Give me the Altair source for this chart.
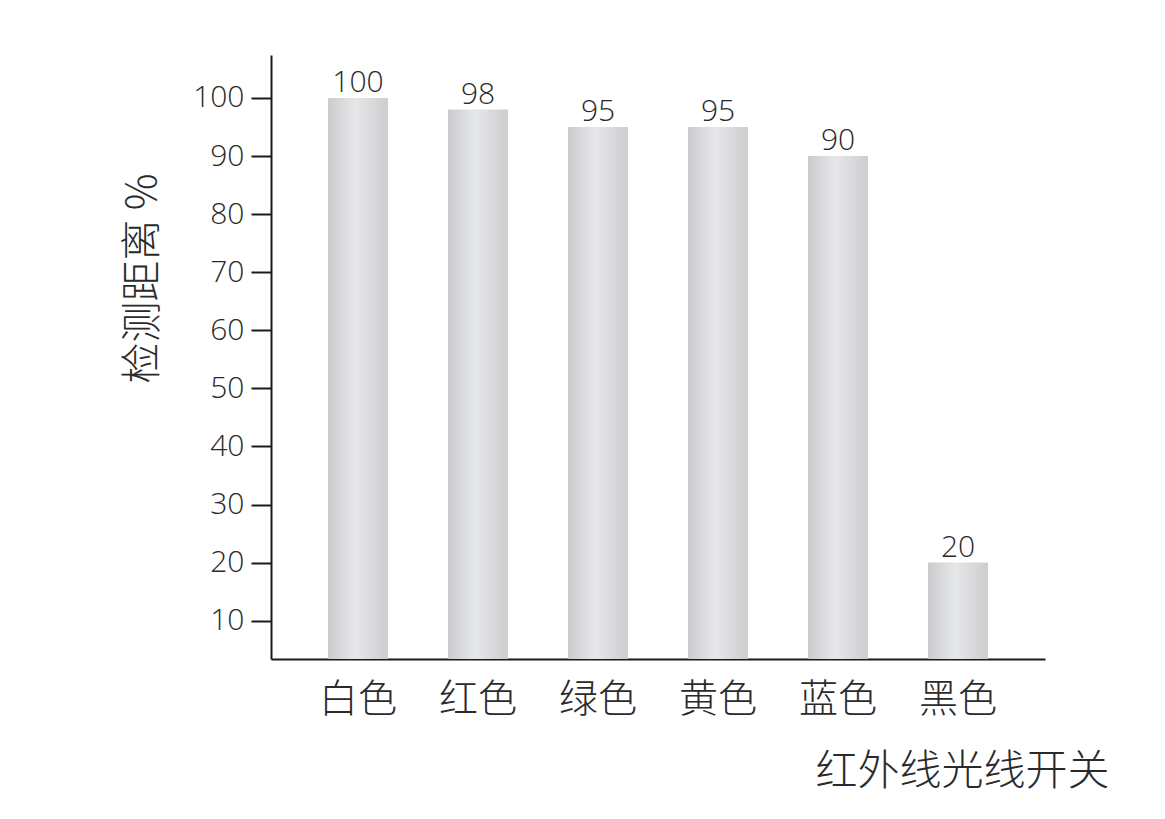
import altair as alt
import pandas as pd

categories = ["白色", "红色", "绿色", "黄色", "蓝色", "黑色"]
values = [100, 98, 95, 95, 90, 20]
y_ticks = [10, 20, 30, 40, 50, 60, 70, 80, 90, 100]
Y_MIN, Y_MAX = 3.4, 107.4

df = pd.DataFrame({"cat": categories, "val": values})

grad = alt.LinearGradient(
    gradient="linear",
    x1=0, x2=1, y1=0, y2=0,
    stops=[
        alt.GradientStop(offset=0, color="#cbcbcd"),
        alt.GradientStop(offset=0.45, color="#e6e7e9"),
        alt.GradientStop(offset=1, color="#cdcdcf"),
    ],
)

CJK = "Noto Sans CJK SC"
NUM = "Open Sans"
TXT = "#2a2a2a"

x_enc = alt.X(
    "cat:N",
    sort=categories,
    scale=alt.Scale(paddingInner=0.5, paddingOuter=0.475),
    axis=alt.Axis(
        title="红外线光线开关",
        titleFont=CJK,
        titleFontWeight=300,
        titleFontSize=42,
        titleColor=TXT,
        titleAlign="right",
        titleAnchor="end",
        titleBaseline="middle",
        titleX=838,
        titleY=112,
        labelFont=CJK,
        labelFontWeight=300,
        labelFontSize=39,
        labelColor=TXT,
        labelAngle=0,
        labelPadding=21,
        ticks=False,
        domainColor="#1a1a1a",
        domainWidth=2,
    ),
)

y_scale = alt.Scale(domain=[Y_MIN, Y_MAX], nice=False, zero=False)

bars = alt.Chart(df).mark_bar(color=grad).encode(
    x=x_enc,
    y=alt.Y(
        "val:Q",
        scale=y_scale,
        axis=alt.Axis(
            values=y_ticks,
            title="检测距离 %",
            titleFont=CJK,
            titleFontWeight=300,
            titleFontSize=41,
            titleColor=TXT,
            titleAngle=270,
            titleAlign="center",
            titleBaseline="middle",
            titleX=-128,
            titleY=223,
            labelFont=NUM,
            labelFontWeight=300,
            labelFontSize=30,
            labelColor=TXT,
            labelPadding=7,
            tickSize=20,
            tickWidth=2,
            tickColor="#1a1a1a",
            domainColor="#1a1a1a",
            domainWidth=2,
            grid=False,
        ),
    ),
    y2=alt.datum(Y_MIN),
)

labels = alt.Chart(df).mark_text(
    font=NUM, fontSize=30, fontWeight=300, color=TXT, baseline="alphabetic", dy=-6
).encode(
    x=alt.X("cat:N", sort=categories),
    y=alt.Y("val:Q", scale=y_scale),
    text="val:Q",
)

chart = (
    (bars + labels)
    .properties(
        width=774,
        height=604,
        autosize=alt.AutoSizeParams(type="none"),
        padding={"left": 263, "top": 47, "right": 100, "bottom": 140},
    )
    .configure_view(stroke=None)
)

chart.save("out.html", embed_options={"renderer": "svg", "actions": False})
